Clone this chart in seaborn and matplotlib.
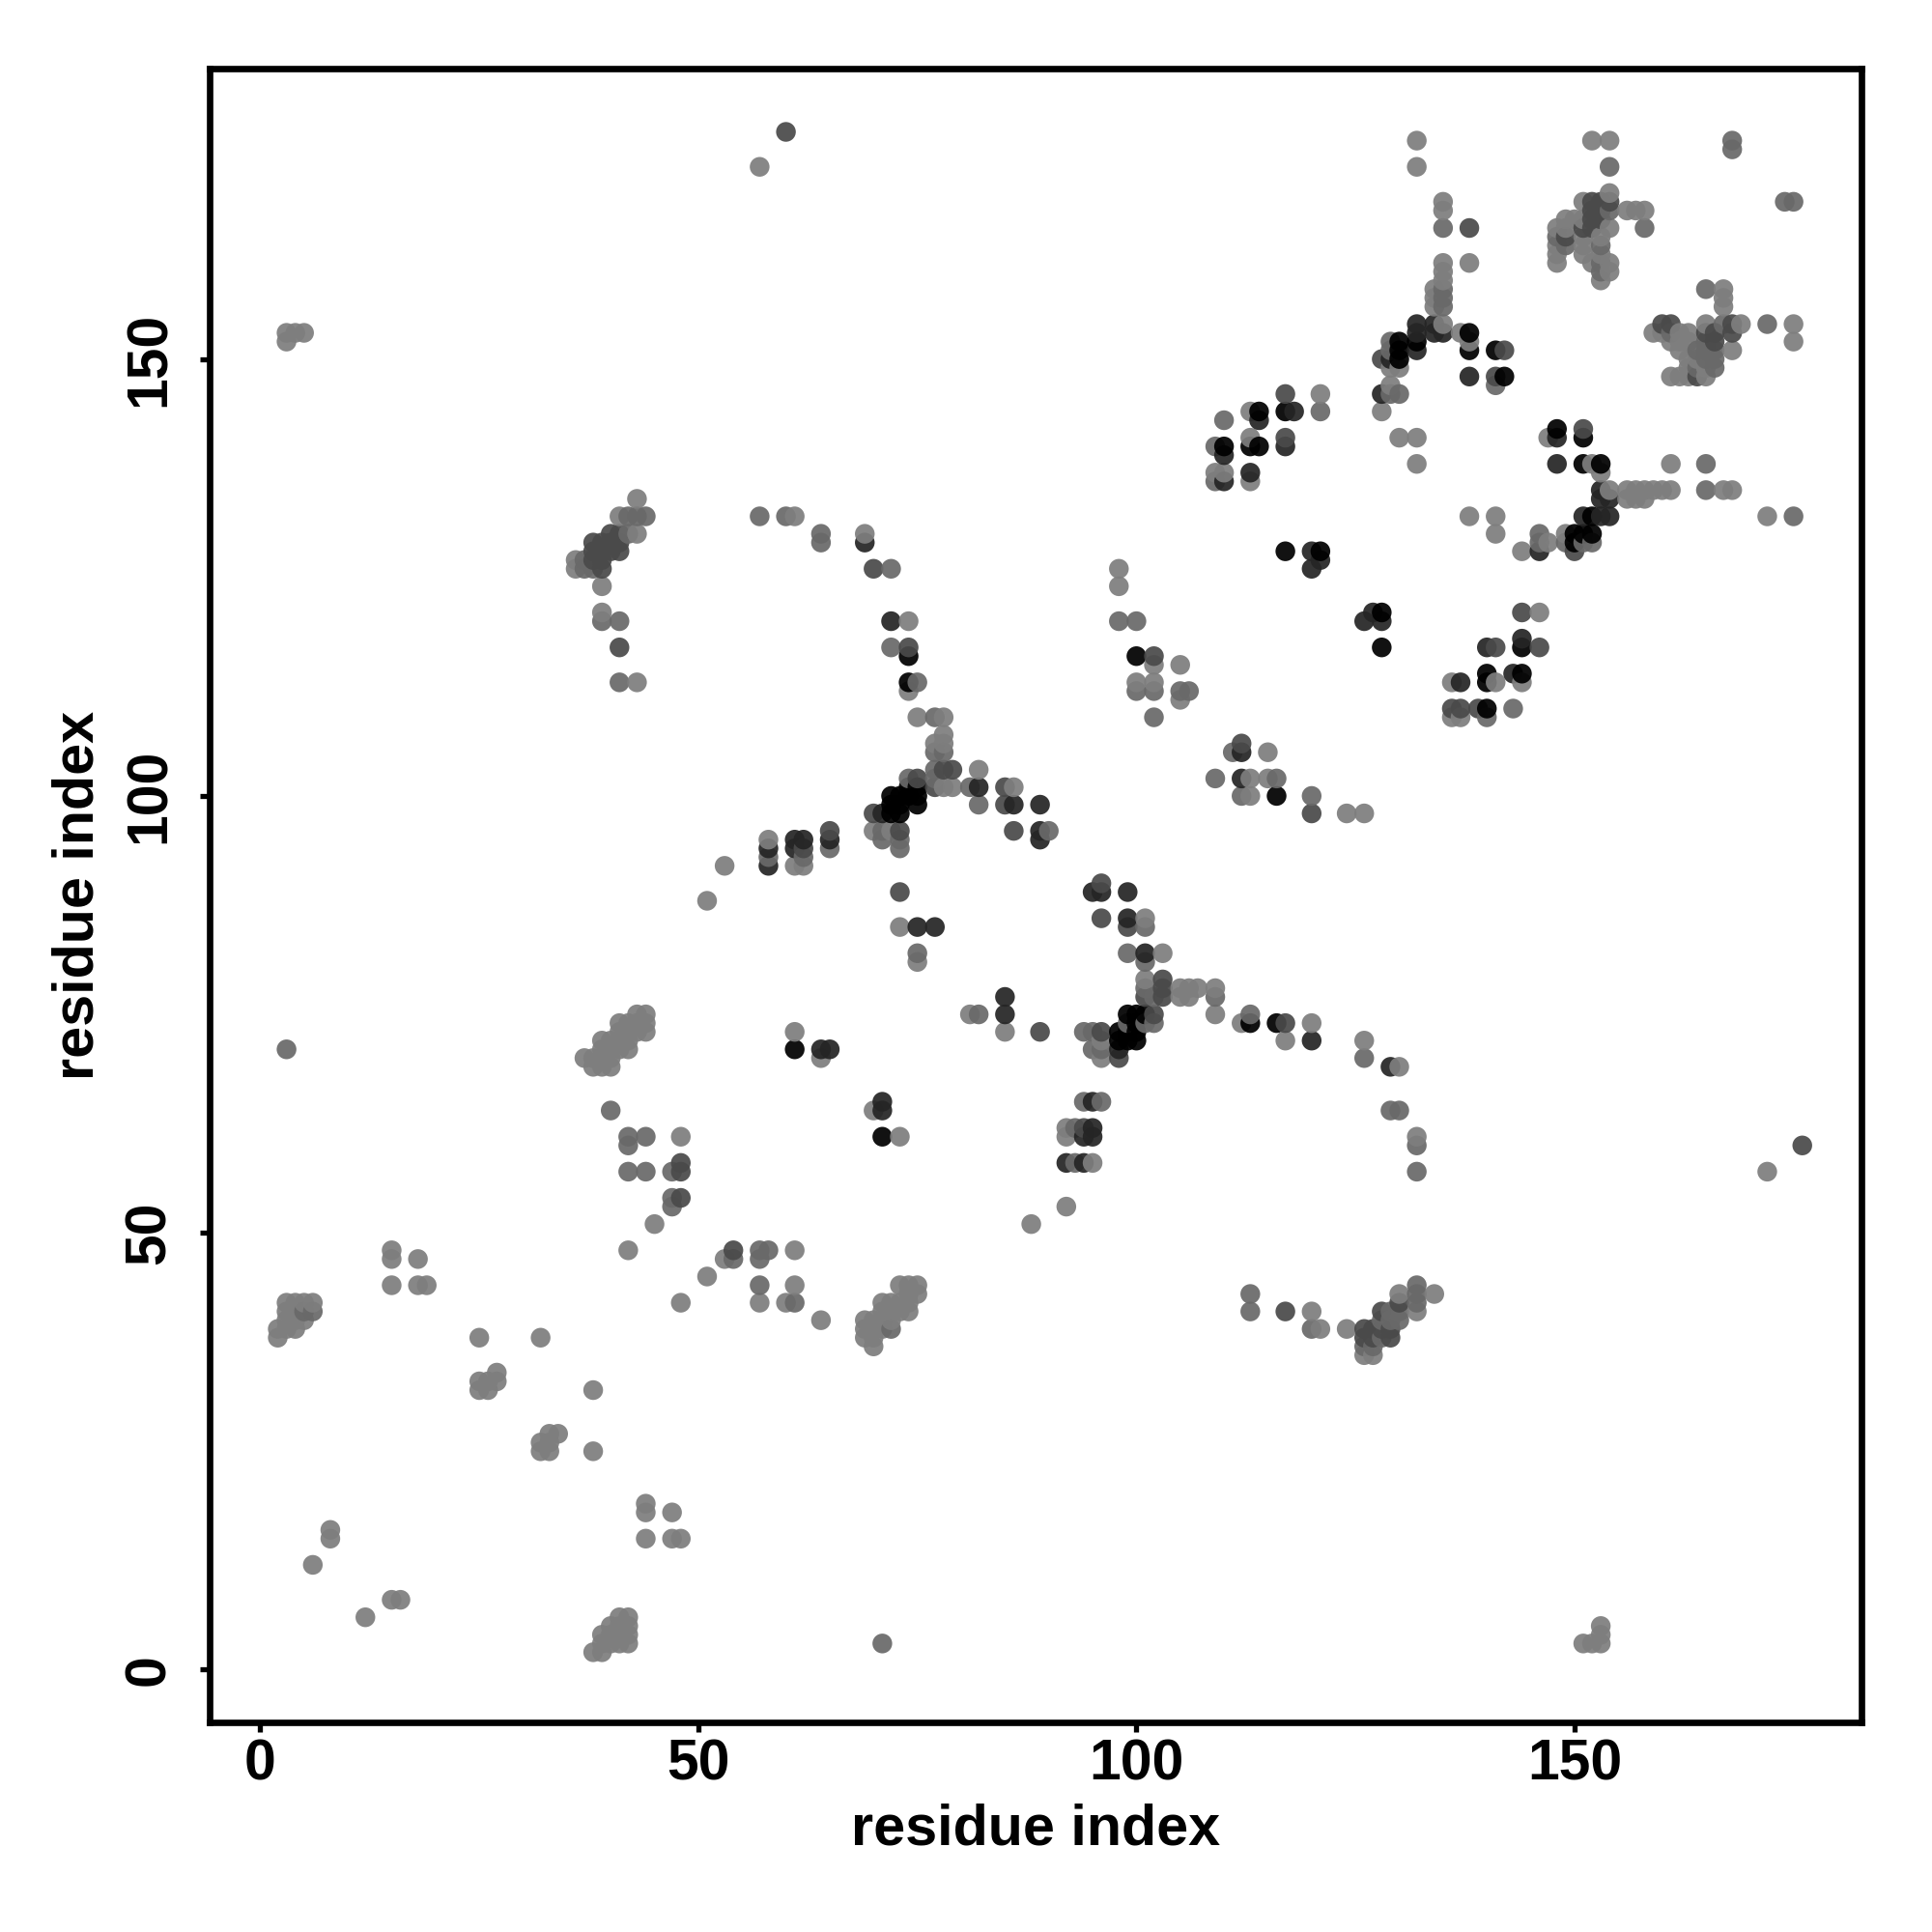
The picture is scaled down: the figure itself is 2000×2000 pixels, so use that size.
import matplotlib
matplotlib.use("Agg")
import matplotlib.pyplot as plt
import pandas as pd
import seaborn as sns

# contact pairs (residue i, residue j) grouped by how strong the contact is
contacts_weak = [
    (132,175),(132,172),(135,168),(135,167),(138,161),(135,161),(135,160),(135,159),(134,158),(134,157),(134,156),
    (135,154),(137,153),(138,152),(129,149),(130,149),(129,147),(128,144),(130,141),(132,141),
    (152,175),(154,175),(154,169),(151,168),(156,167),(157,167),(158,167),(149,166),(150,166),(151,166),
    (148,165),(149,165),(154,165),(151,164),(153,164),(148,163),(151,163),(148,162),(151,162),(152,161),(154,161),
    (148,161),(153,162),(154,160),(153,159),(167,158),(167,157),(167,156),(160,154),(161,154),(165,154),(169,154),
    (175,154),(159,153),(160,153),(162,153),(163,153),(161,152),(162,152),(163,152),(175,152),(162,151),(168,151),
    (163,150),(164,150),(163,149),(165,149),(161,148),(162,148),(163,148),(165,148),
    (121,146),(113,144),(113,141),(109,137),(110,137),(113,136),(138,132),(141,132),(141,130),(132,138),
    (152,138),(153,137),(161,138),(154,135),(156,135),(157,135),(158,135),(159,135),(160,135),(161,135),
    (167,135),(168,135),(156,134),(157,134),(158,134),(172,132),(147,129),(144,128),(149,130),(146,121),
    (136,113),(141,113),(144,113),(137,110),(137,109),(136,109),
    (144,128),(147,141),(43,134),(41,132),(61,132),(69,130),(43,130),(36,127),(36,126),(39,124),(39,121),(74,120),
    (43,113),(74,112),(75,109),(78,109),(78,107),(77,106),(78,106),(82,103),(78,101),(79,101),(86,101),(72,96),
    (70,96),(58,95),(61,92),(62,92),(53,92),(51,88),(73,85),(75,81),(101,86),(103,82),(101,79),(105,78),(106,78),
    (107,78),(105,77),(106,77),(109,78),(109,75),(112,74),(117,72),(120,74),(126,72),(130,69),(132,61),(92,62),
    (92,61),(95,58),(96,72),(96,70),(92,53),(88,51),(81,75),(85,73),(61,73),(64,70),(70,64),(73,61),
    (43,75),(44,75),(37,70),(38,69),(39,69),(40,69),(48,61),(45,51),(42,48),(53,47),(61,48),(51,45),(61,44),(48,42),
    (60,42),(57,42),(64,40),(70,37),(69,38),(73,44),(74,44),(132,41),(130,43),(134,43),(126,36),(127,36),(121,39),
    (124,39),(120,41),(15,48),(15,47),(18,47),(15,44),(18,44),(19,44),(3,42),(4,42),(5,42),(6,42),(3,41),(4,41),
    (3,40),(4,40),(5,40),(2,39),(3,39),(4,39),(2,38),(25,38),(32,38),(25,33),(26,33),(27,34),(27,33),(25,32),(26,32),
    (32,26),(33,27),(34,27),(32,25),(33,25),(33,26),(8,16),(8,15),(6,12),(15,8),(16,8),(12,6),(38,32),(38,25),
    (44,19),(44,18),(44,15),(47,18),(47,15),(48,15),(38,2),(39,2),(39,3),(40,3),(41,3),(42,3),(39,4),(40,4),(41,4),
    (42,4),(40,5),(41,5),(42,5),(41,6),(42,6),(151,3),(152,3),(153,5),(153,4),(153,3),(3,153),(4,153),(5,153),(3,152),
    (57,172),(172,57),(98,126),(98,124),(102,115),(105,115),(100,113),(102,113),(105,111),(113,102),(115,102),
    (113,100),(115,105),(124,98),(126,98),
    (44,74),(44,73),(43,74),(43,73),(41,74),(42,74),(41,73),(42,73),(39,72),(40,72),(41,72),(42,72),(39,71),(40,71),
    (41,71),(42,71),(38,70),(39,70),(40,70),(75,44),(74,43),(75,43),(71,42),(72,42),(73,42),(74,42),(71,41),(72,41),
    (73,41),(74,41),(69,40),(70,40),(71,40),(72,40),(69,39),(70,39),(71,39),(70,38),
]
contacts_medium = [
    (135,165),(135,158),(135,157),(135,156),(129,152),(129,151),(129,146),(130,146),(158,165),(154,172),(154,167),
    (149,164),(148,164),(149,163),(153,163),(153,161),(153,160),(168,175),(168,174),(174,168),(175,168),(165,158),
    (167,154),(172,154),(161,153),(165,152),(164,151),(165,151),(166,151),(164,149),(166,150),(166,149),(165,150),
    (141,147),(110,143),(121,144),(109,140),(109,136),(146,130),(146,129),(165,138),(165,135),(175,132),(149,129),
    (151,129),(152,129),(140,109),(143,110),(146,117),(57,132),(60,132),(64,130),(64,129),(42,132),(43,132),(44,132),
    (42,130),(37,127),(37,126),(38,126),(39,120),(41,120),(41,113),(72,126),(72,117),(75,113),(77,109),(77,105),
    (78,105),(77,103),(82,101),(85,101),(74,102),(77,102),(82,99),(81,101),(71,96),(71,95),(73,95),(73,94),(65,96),
    (65,94),(58,93),(62,93),(75,82),(86,96),(90,96),(96,86),(99,82),(101,85),(101,81),(101,78),(102,77),(109,77),
    (113,75),(117,74),(102,74),(101,74),(99,74),(94,73),(95,73),(95,71),(96,71),(126,70),(129,64),(130,64),(132,60),
    (132,57),(94,65),(96,65),(93,62),(93,58),(82,75),(89,73),(40,64),(42,61),(44,61),(42,60),(42,57),(44,57),(47,57),
    (47,54),(47,53),(54,47),(57,48),(58,48),(57,47),(57,44),(61,42),
    (72,39),(113,43),(113,41),(120,39),(126,37),
    (127,37),(128,38),(130,40),(130,41),(132,44),(132,43),(132,42),(129,41),(128,40),(129,40),(5,41),(6,41),(71,3),(3,71),
    (98,120),(100,120),(100,112),(102,112),(105,112),(106,112),(102,109),(109,102),(111,105),(116,102),(112,100),(120,100),
]
contacts_strong = [
    (138,165),(128,150),(141,148),(142,151),(152,165),(151,165),(161,154),(160,154),(165,153),(149,164),(153,166),
    (168,154),(166,153),(168,153),(166,152),(164,148),(117,146),(117,141),(146,128),(150,128),(144,121),(141,117),
    (146,117),(140,117),(151,142),(148,141),(137,110),(136,110),(139,110),(60,176),(176,60),
    (41,130),(40,130),(40,129),(41,129),(41,128),(40,128),(70,126),(41,117),(74,117),(75,102),(78,103),(79,103),
    (77,101),(85,99),(70,98),(73,96),(73,89),(62,94),(86,96),(96,90),(99,85),(103,79),(103,78),(101,77),(103,77),
    (117,74),(102,75),(96,73),(89,96),(89,95),(98,70),(96,86),(86,99),(89,73),(94,62),(48,58),(48,57),(48,54),(54,48),
    (129,38),(130,42),(128,41),(117,41),(120,98),(126,39),(127,39),(112,106),(102,116),(65,96),(85,101),
    (152,168),(153,168),(154,168),(152,167),(153,167),(152,166),
    (38,129),(39,129),(38,128),(39,128),(38,127),(39,127),(39,126),
    (126,38),(127,38),(129,39),(128,39),
]
contacts_dark = [
    (132,154),(132,153),(132,151),(134,154),(134,153),(135,153),(129,150),(128,146),(138,148),
    (110,139),(114,143),(113,137),(110,136),(117,140),(118,144),(120,128),(120,126),(121,127),(126,120),(127,121),(128,120),
    (148,141),(148,138),(153,135),(153,134),(154,134),(151,132),(153,132),(154,132),(146,128),(137,113),(143,114),
    (140,117),(144,118),(69,129),(72,120),(71,98),
    (82,101),(86,99),(58,94),(58,92),(61,95),(62,95),(61,94),(65,95),(85,77),(75,85),(77,85),(85,75),(89,99),(89,96),
    (89,95),(95,89),(96,89),(99,89),(99,86),(101,82),(98,71),(95,65),(95,62),(94,61),(95,61),(92,58),(94,58),(120,72),
    (129,69),(64,71),(65,71),(71,65),(71,64),(112,105),(112,102),
]
contacts_black = [
    (130,152),(130,151),(130,150),(132,152),(138,153),(138,151),(141,151),(142,148),(148,142),(114,144),(117,144),
    (110,140),(113,140),(114,140),(117,128),(121,128),(128,121),(128,117),(151,141),(151,138),(153,138),(152,132),
    (150,130),(151,130),(152,130),(150,129),(144,117),(140,114),(140,113),(144,114),(140,110),
    (74,116),(74,113),(75,101),(75,100),(72,100),(73,100),(74,100),(75,99),(72,99),(73,99),(72,98),(73,98),(74,101),
    (99,75),(100,75),(101,75),(100,74),(98,73),(99,73),(100,73),(98,72),(99,72),(100,72),
    (113,74),(116,74),(61,71),(71,61),(100,116),(116,100),
]

x_ticks = [0, 50, 100, 150]
y_ticks = [0, 50, 100, 150]
axis_label = "residue index"

tiers = {"weak": contacts_weak, "medium": contacts_medium, "strong": contacts_strong,
         "dark": contacts_dark, "black": contacts_black}
greys = {"weak": "#7e7e7e", "medium": "#696969", "strong": "#4a4a4a", "dark": "#252525", "black": "#000000"}

rows = []
for name, pairs in tiers.items():
    for i, j in pairs:
        rows.append((i, j, name))
df = pd.DataFrame(rows, columns=["i", "j", "tier"])
# later (stronger) listing wins, and points are painted column by column
df = df.drop_duplicates(["i", "j"], keep="last").sort_values(["i", "j"])

sns.set_theme(style="white")
plt.rcParams["font.family"] = ["Liberation Sans", "DejaVu Sans"]

fig = plt.figure(figsize=(10, 10), dpi=200)
ax = fig.add_axes([0.1084, 0.1084, 0.8553, 0.8559])
sns.scatterplot(data=df, x="i", y="j", hue="tier", palette=greys, s=54, linewidth=0,
                alpha=0.93, legend=False, ax=ax)

ax.set_xlim(-5.8, 182.8)
ax.set_ylim(-6.05, 183.2)
ax.set_xticks(x_ticks)
ax.set_yticks(y_ticks)
ax.set_xlabel(axis_label, fontsize=21.4, fontweight="bold", color="black", va="center")
ax.set_ylabel(axis_label, fontsize=21.4, fontweight="bold", color="black", va="center")
ax.xaxis.set_label_coords(0.5, -0.065)
ax.yaxis.set_label_coords(-0.0795, 0.5)
ax.tick_params(axis="both", which="major", length=3.7, width=1.9, color="black", bottom=True, left=True,
               labelsize=21.2, labelcolor="black")
ax.tick_params(axis="x", pad=2)
ax.tick_params(axis="y", pad=8.7)
for lab in ax.get_xticklabels():
    lab.set_fontweight("bold")
for lab in ax.get_yticklabels():
    lab.set_fontweight("bold")
    lab.set_rotation(90)
    lab.set_va("center")
for s in ax.spines.values():
    s.set_visible(True)
    s.set_color("black")
    s.set_linewidth(2.4)

fig.savefig("out.png", dpi=200)
